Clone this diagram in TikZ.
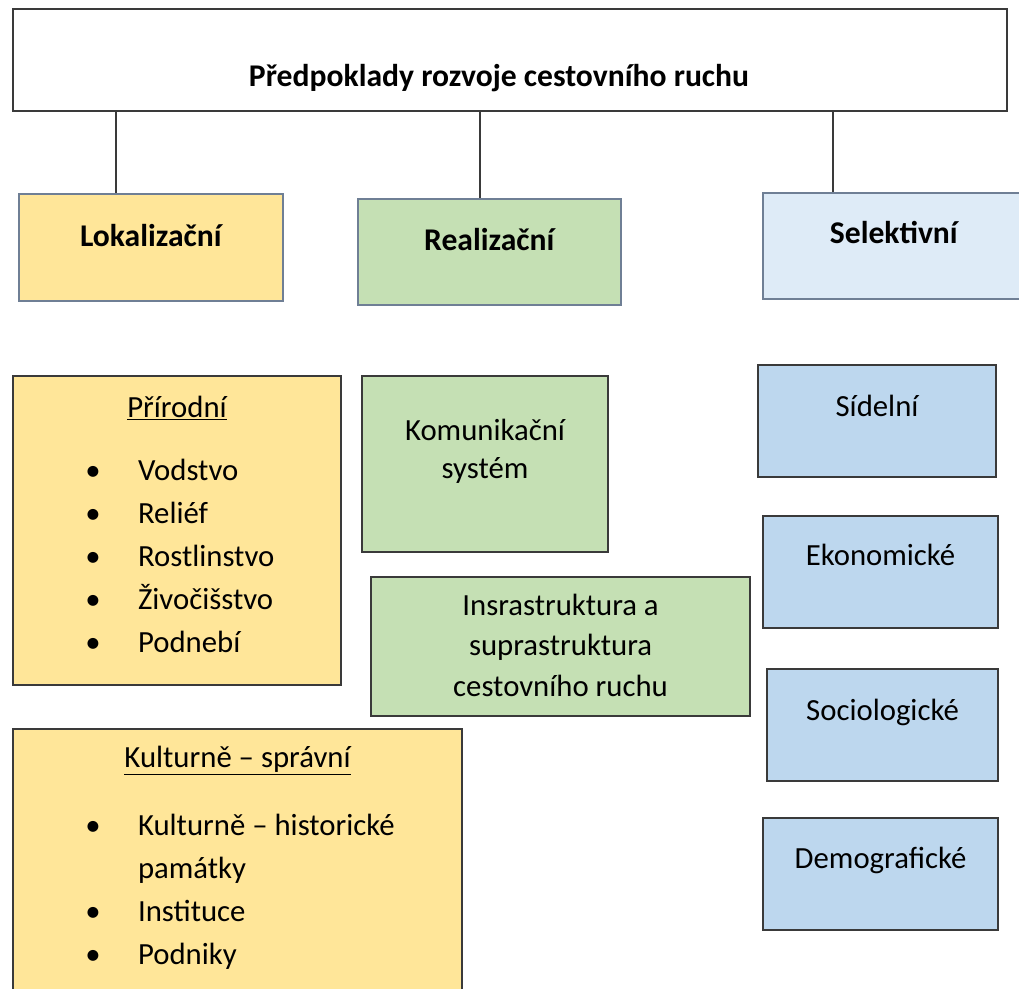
\documentclass[tikz,border=0pt]{standalone}
\usepackage{fontspec}
\setmainfont{Carlito}
\usetikzlibrary{positioning}

\definecolor{lokfill}{HTML}{FFE699}
\definecolor{realfill}{HTML}{C5E0B4}
\definecolor{selfill}{HTML}{DEEBF7}
\definecolor{selsub}{HTML}{BDD7EE}
\definecolor{headline}{HTML}{6F7F95}
\definecolor{partline}{HTML}{3A3A3A}

% one pixel of the layout
\newlength{\px}\setlength{\px}{0.02cm}
% width, height, first baseline, text
\newcommand{\cell}[4]{\parbox[c][#2\px][t]{#1\px}{\centering\rule{0pt}{#3\px}#4}}
\newcommand{\itm}{\hspace*{68\px}\makebox[24\px]{\textbullet}\hspace*{33\px}}
\newcommand{\lst}{\fontsize{17.5}{24.4}\selectfont}
\newcommand{\hd}[1]{{\fontsize{18}{21}\selectfont\bfseries #1}}

\begin{document}
\begin{tikzpicture}[x=0.02cm, y=-0.02cm, inner sep=0pt,
	font=\fontsize{17.5}{21}\selectfont,
	head/.style={anchor=north west, draw=headline, line width=0.9pt},
	part/.style={anchor=north west, draw=partline, line width=1.2pt},
	link/.style={draw=partline, line width=1.1pt}]
	\useasboundingbox (0,0) rectangle (1019,989);

	\node (root) at (12,8)	[part, fill=white]	{\cell{994}{102}{77}{\hd{Předpoklady rozvoje cestovního ruchu}\hspace*{22\px}}};

	\node (lok)  at (18,193)	[head, fill=lokfill]	{\cell{264}{107}{53}{\hd{Lokalizační}}};
	\node (real) at (357,198)	[head, fill=realfill]	{\cell{263}{106}{52}{\hd{Realizační}}};
	\node (sel)  at (762,192)	[head, fill=selfill]	{\cell{262}{106}{51}{\hd{Selektivní}}};

	\node (prir) at (12,375)	[part, fill=lokfill]	{\cell{328}{309}{41}{\lst\underline{Přírodní}\par\raggedright\vspace{21\px}
		\itm Vodstvo\\ \itm Reliéf\\ \itm Rostlinstvo\\ \itm Živočišstvo\\ \itm Podnebí}};
	\node (kult) at (12,728)	[part, fill=lokfill]	{\cell{449}{290}{38}{\lst\underline{Kulturně – správní}\par\raggedright\vspace{26\px}
		\itm Kulturně – historické\\ \hspace*{125\px}památky\\ \itm Instituce\\ \itm Podniky}};

	\node (kom)  at (361,375)	[part, fill=realfill]	{\cell{246}{176}{64}{Komunikační\\[1pt] systém}};
	\node (infra) at (370,576)	[part, fill=realfill]	{\cell{379}{139}{38}{Insrastruktura a\\[2.2pt] suprastruktura\\[2.2pt] cestovního ruchu}};

	\node (sid)  at (757,364)	[part, fill=selsub]	{\cell{238}{112}{51}{Sídelní}};
	\node (eko)  at (762,515)	[part, fill=selsub]	{\cell{235}{112}{49}{Ekonomické}};
	\node (soc)  at (766,668)	[part, fill=selsub]	{\cell{231}{112}{51}{Sociologické}};
	\node (dem)  at (762,817)	[part, fill=selsub]	{\cell{235}{112}{50}{Demografické}};

	\coordinate (lokTop)  at ([xshift=1.96cm]lok.north west);
	\coordinate (realTop) at ([xshift=2.46cm]real.north west);
	\coordinate (selTop)  at ([xshift=1.42cm]sel.north west);
	\draw[link] (root.south -| lokTop)  -- (lokTop);
	\draw[link] (root.south -| realTop) -- (realTop);
	\draw[link] (root.south -| selTop)  -- (selTop);
\end{tikzpicture}
\end{document}
